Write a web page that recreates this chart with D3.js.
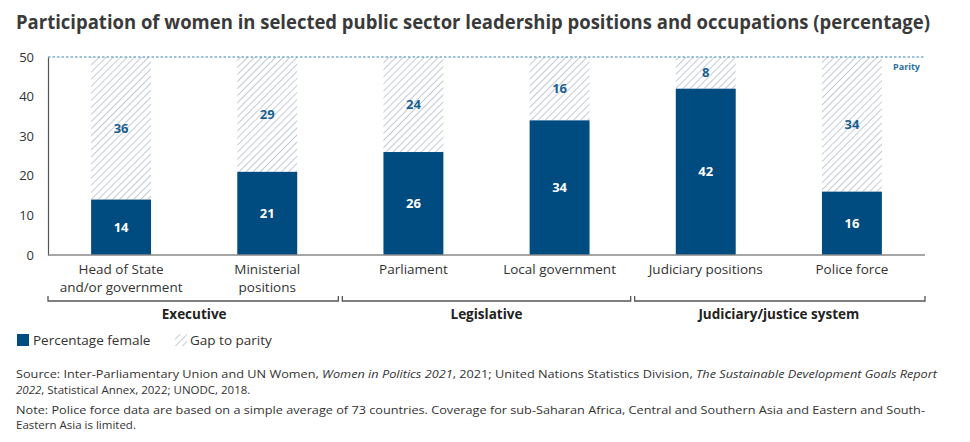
<!DOCTYPE html>
<html>
<head>
<meta charset="utf-8">
<script src="https://cdn.jsdelivr.net/npm/d3@7"></script>
<style>
  body { margin: 0; background: #fff; }
  text { font-family: "Open Sans", Lato, sans-serif; }
</style>
</head>
<body>
<div class="viz"></div>
<script>
// chart data
const categories = [['Head of State', 'and/or government'], ['Ministerial', 'positions'], ['Parliament'], ['Local government'], ['Judiciary positions'], ['Police force']]
const female = [14, 21, 26, 34, 42, 16]
const gap = [36, 29, 24, 16, 8, 34]
const groups = ['Executive', 'Legislative', 'Judiciary/justice system']
const groupSpan = [[0, 1], [2, 3], [4, 5]]
const yTicks = [0, 10, 20, 30, 40, 50]
const parity = 50

const width = 970
const height = 442
const margin = { top: 57, right: 45, bottom: 187, left: 48 }
const blue = '#004b80'
const labelBlue = '#1b5f92'

const svg = d3.select('.viz')
  .append('svg')
    .attr('width', width)
    .attr('height', height)

// hatch pattern for the gap
const pattern = svg.append('defs').append('pattern')
  .attr('id', 'hatch')
  .attr('patternUnits', 'userSpaceOnUse')
  .attr('width', 5)
  .attr('height', 5)
  .attr('patternTransform', 'rotate(45)')
pattern.append('rect').attr('width', 5).attr('height', 5).attr('fill', '#fff')
pattern.append('line')
  .attr('x1', 0).attr('y1', 0).attr('x2', 0).attr('y2', 5)
  .attr('stroke', '#a9b5c8')
  .attr('stroke-width', 1.4)

const x = d3.scaleBand()
  .domain(d3.range(categories.length))
  .range([margin.left, width - margin.right])
  .paddingInner(0.59)
  .paddingOuter(0.295)

const y = d3.scaleLinear()
  .domain([0, 50])
  .range([height - margin.bottom, margin.top])

// title
svg.append('text')
  .attr('x', 16)
  .attr('y', 29)
  .attr('font-size', 19)
  .attr('font-weight', 700)
  .attr('fill', '#3a3a3a')
  .attr('textLength', 914)
  .attr('lengthAdjust', 'spacingAndGlyphs')
  .text('Participation of women in selected public sector leadership positions and occupations (percentage)')

// y axis
const yAxis = svg.append('g')
  .attr('transform', `translate(${margin.left},0)`)
  .call(d3.axisLeft(y).tickValues(yTicks).tickSize(0).tickPadding(14))
yAxis.select('.domain').attr('stroke', '#555').attr('stroke-width', 1.2)
yAxis.selectAll('text')
  .attr('font-size', 13)
  .attr('fill', '#333')
  .style('font-family', '"Open Sans", sans-serif')

// gap bars
svg.append('g')
  .selectAll('rect')
  .data(gap).enter().append('rect')
  .attr('x', (d, i) => x(i))
  .attr('width', x.bandwidth())
  .attr('y', (d, i) => y(female[i] + d))
  .attr('height', (d, i) => y(female[i]) - y(female[i] + d))
  .attr('fill', 'url(#hatch)')

// female bars
svg.append('g')
  .selectAll('rect')
  .data(female).enter().append('rect')
  .attr('x', (d, i) => x(i))
  .attr('width', x.bandwidth())
  .attr('y', d => y(d))
  .attr('height', d => y(0) - y(d))
  .attr('fill', blue)

// parity line
svg.append('line')
  .attr('x1', margin.left)
  .attr('x2', width - margin.right)
  .attr('y1', y(parity))
  .attr('y2', y(parity))
  .attr('stroke', '#3b85b8')
  .attr('stroke-width', 1.2)
  .attr('stroke-dasharray', '2.5,2')

svg.append('text')
  .attr('x', width - margin.right - 5)
  .attr('y', y(parity) + 13)
  .attr('text-anchor', 'end')
  .attr('font-size', 9)
  .attr('font-weight', 700)
  .attr('fill', '#2a6fa5')
  .text('Parity')

// x baseline
svg.append('line')
  .attr('x1', margin.left)
  .attr('x2', width - margin.right)
  .attr('y1', y(0))
  .attr('y2', y(0))
  .attr('stroke', '#888')
  .attr('stroke-width', 1.5)

// value labels
svg.append('g')
  .selectAll('text')
  .data(female).enter().append('text')
  .attr('x', (d, i) => x(i) + x.bandwidth() / 2)
  .attr('y', d => (y(0) + y(d)) / 2)
  .attr('dy', '0.35em')
  .attr('text-anchor', 'middle')
  .attr('font-size', 13)
  .attr('font-weight', 700)
  .attr('fill', '#fff')
  .text(d => d)

svg.append('g')
  .selectAll('text')
  .data(gap).enter().append('text')
  .attr('x', (d, i) => x(i) + x.bandwidth() / 2)
  .attr('y', (d, i) => (y(female[i]) + y(female[i] + d)) / 2)
  .attr('dy', '0.35em')
  .attr('text-anchor', 'middle')
  .attr('font-size', 13)
  .attr('font-weight', 700)
  .attr('fill', labelBlue)
  .text(d => d)

// category labels
const catLabels = svg.append('g')
  .selectAll('text')
  .data(categories).enter().append('text')
  .attr('x', (d, i) => x(i) + x.bandwidth() / 2)
  .attr('y', y(0) + 19)
  .attr('text-anchor', 'middle')
  .attr('font-size', 13.5)
  .attr('fill', '#333')
catLabels.selectAll('tspan')
  .data(d => d).enter().append('tspan')
  .attr('x', function() { return this.parentNode.getAttribute('x') })
  .attr('dy', (d, i) => i === 0 ? 0 : 17.5)
  .text(d => d)

// group brackets
const step = x.step()
const bracketY = 301
const brackets = svg.append('g')
  .selectAll('g')
  .data(groups).enter().append('g')

brackets.append('path')
  .attr('d', (d, i) => {
    const x0 = x(groupSpan[i][0]) - x.paddingOuter() * step + (i === 0 ? 0 : 2)
    const x1 = x(groupSpan[i][1]) + x.bandwidth() + x.paddingOuter() * step - (i === groups.length - 1 ? 0 : 2)
    return `M${x0},${bracketY - 5}V${bracketY}H${x1}V${bracketY - 5}`
  })
  .attr('fill', 'none')
  .attr('stroke', '#555')
  .attr('stroke-width', 1.3)

brackets.append('text')
  .attr('x', (d, i) => (x(groupSpan[i][0]) + x(groupSpan[i][1]) + x.bandwidth()) / 2)
  .attr('y', bracketY + 18)
  .attr('text-anchor', 'middle')
  .attr('font-size', 13.5)
  .attr('font-weight', 700)
  .attr('fill', '#222')
  .text(d => d)

// legend
const legend = svg.append('g').attr('transform', 'translate(17,334)')
legend.append('rect').attr('width', 12).attr('height', 12).attr('fill', blue)
legend.append('text')
  .attr('x', 16).attr('y', 11)
  .attr('font-size', 13.5).attr('fill', '#333')
  .text('Percentage female')
legend.append('rect')
  .attr('x', 158).attr('width', 12).attr('height', 12)
  .attr('fill', 'url(#hatch)')
legend.append('text')
  .attr('x', 173).attr('y', 11)
  .attr('font-size', 13.5).attr('fill', '#333')
  .text('Gap to parity')

// source and note
const notes = svg.append('g').attr('font-size', 11.5).attr('fill', '#333')
const src1 = notes.append('text').attr('x', 16).attr('y', 378)
  .attr('textLength', 921).attr('lengthAdjust', 'spacingAndGlyphs')
src1.append('tspan').text('Source:  Inter-Parliamentary Union and UN Women, ')
src1.append('tspan').attr('font-style', 'italic').text('Women in Politics 2021')
src1.append('tspan').text(', 2021; United Nations Statistics Division, ')
src1.append('tspan').attr('font-style', 'italic').text('The Sustainable Development Goals Report')
const src2 = notes.append('text').attr('x', 16).attr('y', 394)
src2.append('tspan').attr('font-style', 'italic').text('2022')
src2.append('tspan').text(', Statistical Annex, 2022; UNODC, 2018.')
notes.append('text').attr('x', 16).attr('y', 414)
  .attr('textLength', 909).attr('lengthAdjust', 'spacingAndGlyphs')
  .text('Note: Police force data are based on a simple average of 73 countries. Coverage for sub-Saharan Africa, Central and Southern Asia and Eastern and South-')
notes.append('text').attr('x', 16).attr('y', 429)
  .text('Eastern Asia is limited.')
</script>
</body>
</html>
